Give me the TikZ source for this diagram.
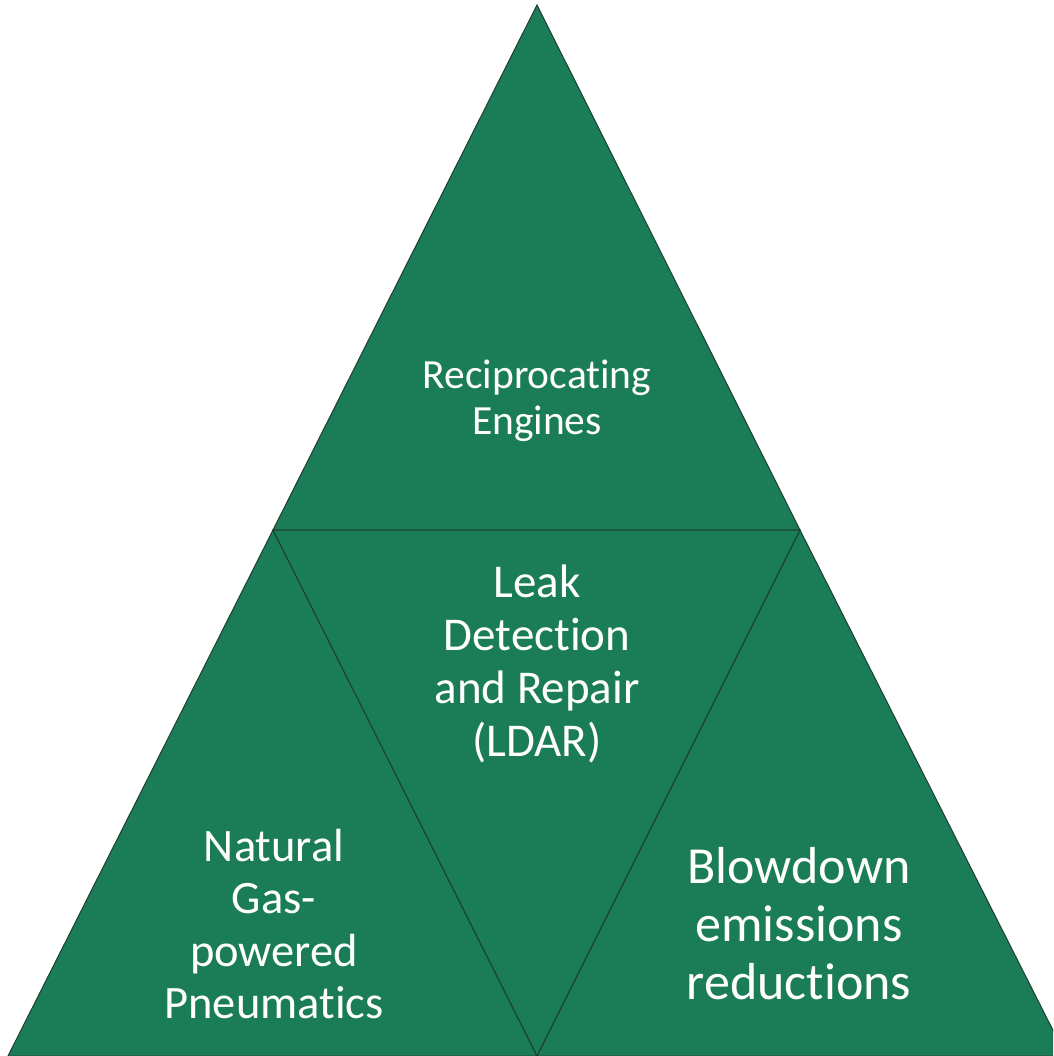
\documentclass[tikz,border=0pt]{standalone}
\usepackage{fontspec}
\setmainfont{Carlito}[Ligatures=NoCommon]
\definecolor{tgreen}{HTML}{1B7D57}
\definecolor{tedge}{HTML}{1F3D30}
\begin{document}
\begin{tikzpicture}[x=1pt,y=-1pt,
  tri/.style={fill=tgreen,draw=tedge,line width=1pt,line join=miter},
  lbl/.style={text=white,align=center,inner sep=0pt}]
\useasboundingbox (0,0) rectangle (1053,1056);
\clip (0,0) rectangle (1053,1056);
\coordinate (apex) at (537,5);
\coordinate (lm) at (273,530);
\coordinate (rm) at (800,530);
\coordinate (bl) at (8,1056);
\coordinate (br) at (1066,1056);
\coordinate (bm) at (537,1056);
\draw[tri] (apex) -- (lm) -- (rm) -- cycle;
\draw[tri] (lm) -- (bl) -- (bm) -- cycle;
\draw[tri] (rm) -- (bm) -- (br) -- cycle;
\draw[tri] (lm) -- (rm) -- (bm) -- cycle;
\node[lbl,font=\fontsize{41.5}{46}\selectfont] (rec) at (537,401) {Reciprocating\\Engines};
\node[lbl,font=\fontsize{47}{53}\selectfont] (ldar) at (537,664) {Leak\\Detection\\and Repair\\(LDAR)};
\node[lbl,font=\fontsize{46.5}{52.3}\selectfont] (ngp) at (274,924) {Natural\\Gas-\\powered\\Pneumatics};
\node[lbl,font=\fontsize{52}{58}\selectfont] (blow) at (799,924) {Blowdown\\emissions\\reductions};
\end{tikzpicture}
\end{document}
